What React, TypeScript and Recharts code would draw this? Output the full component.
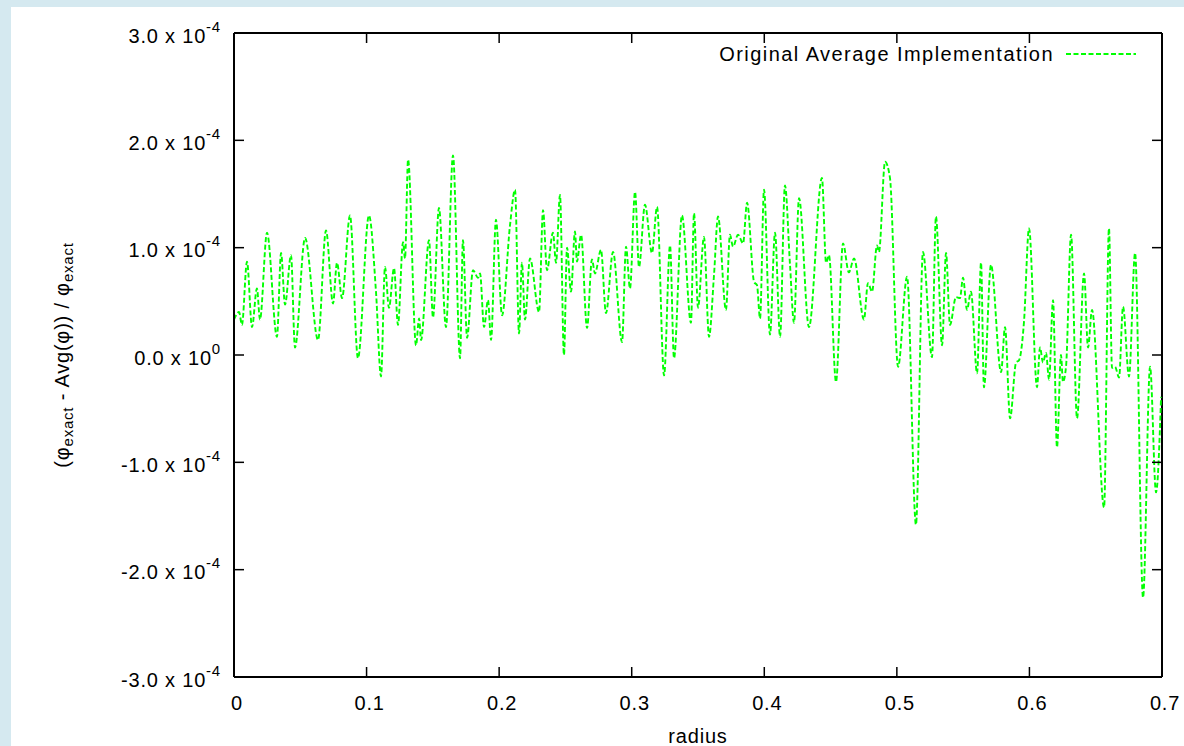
import React from "react";
import { LineChart, Line, XAxis, YAxis, ReferenceLine } from "recharts";

// radius samples (turning points of the curve)
const radius = [
  0, 0.0038, 0.006, 0.0098, 0.0136, 0.0173, 0.0196, 0.0249, 0.0324, 0.0355,
  0.0385, 0.043, 0.046, 0.0536, 0.0634, 0.0694, 0.0747, 0.0777, 0.0815, 0.0875,
  0.0935, 0.1018, 0.1071, 0.1109, 0.1139, 0.1169, 0.1207, 0.1237, 0.1275, 0.129,
  0.1313, 0.1373, 0.1396, 0.1411, 0.1471, 0.1501, 0.1546, 0.1599, 0.1652, 0.1705,
  0.1727, 0.1758, 0.1803, 0.1841, 0.1856, 0.1886, 0.1916, 0.1939, 0.1976, 0.2022,
  0.2082, 0.212, 0.215, 0.2172, 0.2195, 0.2233, 0.2301, 0.2331, 0.2361, 0.2406,
  0.2429, 0.2459, 0.2489, 0.2512, 0.2542, 0.2572, 0.2587, 0.2618, 0.2663, 0.27,
  0.2723, 0.2768, 0.2806, 0.2859, 0.2927, 0.2957, 0.2987, 0.3025, 0.3055, 0.31,
  0.3153, 0.3191, 0.3244, 0.3289, 0.3319, 0.3379, 0.3447, 0.347, 0.35, 0.3545,
  0.3583, 0.3621, 0.3651, 0.3711, 0.3741, 0.3764, 0.3802, 0.384, 0.387, 0.3923,
  0.3945, 0.3968, 0.3998, 0.4043, 0.4081, 0.4119, 0.4156, 0.4194, 0.4224, 0.4262,
  0.4337, 0.4435, 0.4466, 0.4488, 0.4541, 0.4594, 0.4638, 0.4677, 0.4752, 0.4782,
  0.4813, 0.485, 0.4865, 0.4911, 0.4948, 0.5009, 0.5077, 0.5144, 0.5197, 0.5265,
  0.5295, 0.5341, 0.5371, 0.5401, 0.5446, 0.5476, 0.5499, 0.5529, 0.5559, 0.5605,
  0.5635, 0.5657, 0.571, 0.5786, 0.5816, 0.5854, 0.5899, 0.5921, 0.5959, 0.5997,
  0.6057, 0.608, 0.6102, 0.6125, 0.6148, 0.6178, 0.6208, 0.6238, 0.6253, 0.6276,
  0.6314, 0.6359, 0.6412, 0.6442, 0.6472, 0.6563, 0.66, 0.6623, 0.6646, 0.6676,
  0.6706, 0.6751, 0.6797, 0.6857, 0.691, 0.6955, 0.6993,
];

// (phi_exact - Avg(phi)) / phi_exact, in units of 1e-4
const deviationE4 = [
  0.33, 0.4, 0.28, 0.87, 0.26, 0.62, 0.33, 1.14, 0.17, 0.95,
  0.47, 0.93, 0.07, 1.09, 0.14, 1.16, 0.48, 0.86, 0.53, 1.3,
  -0.03, 1.3, 0.59, -0.2, 0.82, 0.44, 0.81, 0.28, 1.05, 0.9,
  1.82, 0.09, 0.34, 0.14, 1.07, 0.35, 1.37, 0.26, 1.86, -0.03,
  1.07, 0.16, 0.79, 0.72, 0.76, 0.26, 0.51, 0.14, 1.26, 0.37,
  1.21, 1.54, 0.2, 0.86, 0.33, 0.9, 0.4, 1.35, 0.79, 1.14,
  0.86, 1.49, 0.0, 1.0, 0.59, 1.15, 0.87, 1.12, 0.25, 0.89,
  0.76, 0.98, 0.39, 0.96, 0.12, 1.01, 0.62, 1.52, 0.82, 1.4,
  0.95, 1.38, -0.19, 1.02, -0.03, 1.3, 0.3, 1.32, 0.44, 1.1,
  0.17, 0.75, 1.29, 0.42, 1.12, 1.01, 1.12, 1.04, 1.42, 0.68,
  0.65, 0.34, 1.54, 0.19, 1.14, 0.17, 1.58, 0.84, 0.3, 1.46,
  0.26, 1.65, 0.86, 0.93, -0.25, 1.04, 0.77, 0.9, 0.33, 0.67,
  0.59, 1.02, 0.96, 1.8, 1.65, -0.11, 0.73, -1.58, 0.96, -0.02,
  1.29, 0.09, 0.95, 0.28, 0.54, 0.53, 0.72, 0.42, 0.59, -0.17,
  0.86, -0.3, 0.84, -0.16, 0.26, -0.59, -0.07, -0.05, 0.31, 1.18,
  -0.3, 0.07, -0.07, 0.02, -0.23, 0.51, -0.86, 0.0, -0.25, -0.11,
  1.12, -0.59, 0.76, 0.07, 0.42, -1.42, 1.18, -0.12, -0.11, -0.21,
  0.45, -0.2, 0.95, -2.26, -0.11, -1.28, -0.39,
];

const xTicks = [0, 0.1, 0.2, 0.3, 0.4, 0.5, 0.6, 0.7];
const yTicks = [-3, -2, -1, 0, 1, 2, 3];

const seriesName = "Original Average Implementation";

const W = 1184;
const H = 746;
const PLOT_W = 928;
const PLOT_H = 644;
const FONT = "'Liberation Sans', Arial, Helvetica, sans-serif";
const FS = 20;
const LS = 0.8;
const GREEN = "#00ff00";
const DASH = "5 2.5";

const XTick = (props: any) => {
  const { x, y, payload } = props;
  const axisY = y - 19;
  const v = payload.value;
  return (
    <g>
      <line x1={x} x2={x} y1={axisY} y2={axisY - 10} stroke="#000" strokeWidth={1.5} />
      <line x1={x} x2={x} y1={axisY - PLOT_H} y2={axisY - PLOT_H + 10} stroke="#000" strokeWidth={1.5} />
      <text x={x + 3} y={y} dy="0.71em" textAnchor="middle" fontFamily={FONT} fontSize={FS} letterSpacing={LS} fill="#000">
        {v === 0 ? "0" : v.toFixed(1)}
      </text>
    </g>
  );
};

const YTick = (props: any) => {
  const { x, y, payload } = props;
  const axisX = x + 14;
  const v = payload.value;
  const mant = v.toFixed(1);
  return (
    <g>
      <line x1={axisX} x2={axisX + 10} y1={y} y2={y} stroke="#000" strokeWidth={1.5} />
      <line x1={axisX + PLOT_W} x2={axisX + PLOT_W - 10} y1={y} y2={y} stroke="#000" strokeWidth={1.5} />
      <text x={x + 1} y={y + 9.5} textAnchor="end" fontFamily={FONT} fontSize={FS} letterSpacing={LS} fill="#000">
        <tspan>{`${mant} x 10`}</tspan>
        <tspan dy={-11} fontSize={15}>{v === 0 ? "0" : "-4"}</tspan>
      </text>
    </g>
  );
};

const XTitle = (props: any) => {
  const vb = props.viewBox;
  return (
    <text x={vb.x + vb.width / 2} y={vb.y + 66} textAnchor="middle" fontFamily={FONT} fontSize={FS} letterSpacing={LS} fill="#000">
      radius
    </text>
  );
};

const YTitle = (props: any) => {
  const vb = props.viewBox;
  const cx = vb.x + 62;
  const cy = vb.y + vb.height / 2;
  return (
    <text
      x={cx}
      y={cy}
      transform={`rotate(-90, ${cx}, ${cy})`}
      textAnchor="middle"
      dominantBaseline="central"
      fontFamily={FONT}
      fontSize={FS}
      letterSpacing={LS}
      fill="#000"
    >
      <tspan>(φ</tspan>
      <tspan dy={5} fontSize={15}>exact</tspan>
      <tspan dy={-5}> - Avg(φ)) / φ</tspan>
      <tspan dy={5} fontSize={15}>exact</tspan>
    </text>
  );
};

export default function App() {
  const data = radius.map((r, i) => ({ r, v: deviationE4[i] }));

  return (
    <div style={{ position: "absolute", left: 0, top: 0, width: W, height: H, background: "#d5e9f0", overflow: "hidden" }}>
      <div style={{ position: "absolute", left: 11, top: 7, right: 0, bottom: 0, background: "#fff" }} />
      <div style={{ position: "absolute", left: 0, top: 0 }}>
        <LineChart width={W} height={H} data={data} margin={{ top: 33, right: 22, bottom: 0, left: 0 }}>
          <XAxis
            dataKey="r"
            type="number"
            domain={[0, 0.7]}
            ticks={xTicks}
            interval={0}
            height={69}
            tickSize={0}
            tickMargin={19}
            tickLine={false}
            axisLine={{ stroke: "#000", strokeWidth: 2 }}
            tick={<XTick />}
            label={<XTitle />}
          />
          <YAxis
            type="number"
            domain={[-3, 3]}
            ticks={yTicks}
            interval={0}
            width={234}
            tickSize={0}
            tickMargin={14}
            tickLine={false}
            axisLine={{ stroke: "#000", strokeWidth: 2 }}
            tick={<YTick />}
            label={<YTitle />}
          />
          <ReferenceLine y={3} stroke="#000" strokeWidth={2} />
          <ReferenceLine x={0.7} stroke="#000" strokeWidth={2} />
          <Line
            type="monotone"
            dataKey="v"
            name={seriesName}
            stroke={GREEN}
            strokeWidth={1.9}
            strokeDasharray={DASH}
            dot={false}
            isAnimationActive={false}
          />
        </LineChart>
      </div>
      <div
        style={{
          position: "absolute",
          right: 1184 - 1136,
          top: 42,
          display: "flex",
          alignItems: "center",
          fontFamily: FONT,
          fontSize: FS,
          letterSpacing: 1.45,
          color: "#000",
        }}
      >
        <span>{seriesName}</span>
        <svg width={82} height={24}>
          <line x1={12} x2={82} y1={12} y2={12} stroke={GREEN} strokeWidth={1.9} strokeDasharray={DASH} />
        </svg>
      </div>
    </div>
  );
}
